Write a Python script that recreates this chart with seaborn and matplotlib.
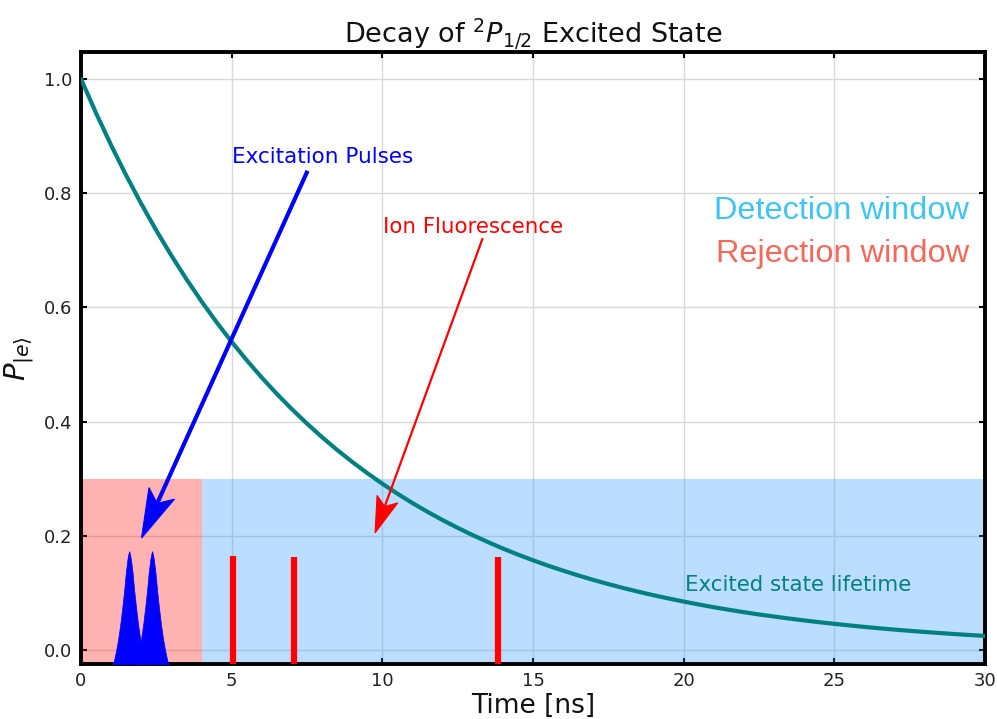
import numpy as np
import matplotlib
matplotlib.use("Agg")
import matplotlib.pyplot as plt
import seaborn as sns
from matplotlib.patches import Polygon
from matplotlib.lines import Line2D
from matplotlib.transforms import IdentityTransform

# ---- data ----
time_ns = [0.0, 0.5, 1.0, 1.5, 2.0, 2.5, 3.0, 3.5, 4.0, 4.5, 5.0, 5.5, 6.0, 6.5, 7.0, 7.5,
           8.0, 8.5, 9.0, 9.5, 10.0, 10.5, 11.0, 11.5, 12.0, 12.5, 13.0, 13.5, 14.0, 14.5,
           15.0, 15.5, 16.0, 16.5, 17.0, 17.5, 18.0, 18.5, 19.0, 19.5, 20.0, 20.5, 21.0,
           21.5, 22.0, 22.5, 23.0, 23.5, 24.0, 24.5, 25.0, 25.5, 26.0, 26.5, 27.0, 27.5,
           28.0, 28.5, 29.0, 29.5, 30.0]
p_excited = [1.0000, 0.9401, 0.8839, 0.8310, 0.7813, 0.7345, 0.6906, 0.6493, 0.6104,
             0.5739, 0.5396, 0.5073, 0.4769, 0.4484, 0.4216, 0.3964, 0.3726, 0.3503,
             0.3294, 0.3097, 0.2911, 0.2737, 0.2573, 0.2419, 0.2275, 0.2139, 0.2011,
             0.1891, 0.1777, 0.1671, 0.1571, 0.1477, 0.1389, 0.1306, 0.1227, 0.1154,
             0.1085, 0.1020, 0.0959, 0.0902, 0.0848, 0.0797, 0.0749, 0.0704, 0.0662,
             0.0622, 0.0586, 0.0551, 0.0518, 0.0487, 0.0458, 0.0431, 0.0404, 0.0380,
             0.0357, 0.0336, 0.0316, 0.0297, 0.0279, 0.0262, 0.0247]

pulse_centers = [1.60, 2.36]
pulse_offsets = [-0.55, -0.50, -0.43, -0.37, -0.29, -0.225, -0.165, -0.115, -0.06, -0.03,
                 0.0, 0.03, 0.06, 0.115, 0.165, 0.225, 0.29, 0.37, 0.43, 0.50, 0.55]
pulse_profile = [-0.025, -0.0175, 0.0, 0.0175, 0.047, 0.076, 0.105, 0.134, 0.158, 0.167,
                 0.173, 0.167, 0.158, 0.134, 0.105, 0.076, 0.047, 0.0175, 0.0, -0.0175,
                 -0.025]

fluor_times = [5.05, 7.07, 13.85]
fluor_heights = [0.165, 0.163, 0.163]

rejection_window = [0.0, 4.0]
detection_window = [4.0, 30.0]
window_height = 0.30

x_ticks = [0, 5, 10, 15, 20, 25, 30]
y_ticks = [0.0, 0.2, 0.4, 0.6, 0.8, 1.0]

# ---- figure ----
sns.set_style("whitegrid")
plt.rcParams['font.family'] = ['DejaVu Sans']

fig = plt.figure(figsize=(9.97, 7.19), dpi=100)
ax = fig.add_axes([0.0812, 0.0765, 0.9068, 0.8512])
ymin, ymax = -0.0245, 1.047
ax.set_xlim(0, 30)
ax.set_ylim(ymin, ymax)

ax.grid(True, color='#d9d9d9', linewidth=1.0)
ax.set_axisbelow(True)

# windows
ax.fill_between(rejection_window, ymin, window_height, color='red', alpha=0.3,
                linewidth=0, zorder=1)
ax.fill_between(detection_window, ymin, window_height, color='dodgerblue', alpha=0.3,
                linewidth=0, zorder=1)

# excitation pulses
for c in pulse_centers:
    xs = [c + o for o in pulse_offsets]
    ax.fill_between(xs, ymin, pulse_profile, color='#0000ff', linewidth=0.5,
                    edgecolor='#0000ff', zorder=3)

# fluorescence photons
ax.vlines(fluor_times, ymin, fluor_heights, color='#ff0000', linewidth=4.5, zorder=3)

# decay curve
sns.lineplot(x=time_ns, y=p_excited, ax=ax, color='#008080', linewidth=3, zorder=4)

ax.set_xticks(x_ticks)
ax.set_yticks(y_ticks)
ax.set_xticklabels([str(v) for v in x_ticks])
ax.set_yticklabels([f"{v:.1f}" for v in y_ticks])
ax.tick_params(axis='both', which='both', direction='in', length=4, width=1.5,
               color='black', labelsize=13, top=True, right=True,
               bottom=True, left=True, labelcolor='#222222', pad=6)
for s in ax.spines.values():
    s.set_color('black')
    s.set_linewidth(2.8)
    s.set_visible(True)

ax.set_title(r"Decay of $^2P_{1/2}$ Excited State", fontsize=19.5, pad=6, color='#111111')
ax.set_xlabel("Time [ns]", fontsize=19, labelpad=2, color='#111111')
ax.set_ylabel(r"$P_{|e\rangle}$", fontsize=21, labelpad=6, color='#111111')

# texts
ax.text(5.0, 0.863, "Excitation Pulses", color='#0000ff', fontsize=15.5, va='center', ha='left')
ax.text(10.03, 0.741, "Ion Fluorescence", color='#ff0000', fontsize=15.4, va='center', ha='left')
ax.text(20.03, 0.114, "Excited state lifetime", color='#008080', fontsize=15.4,
        va='center', ha='left', zorder=5)
ax.text(29.47, 0.768, "Detection window", color='#3ec5f1', fontsize=23.4, va='center',
        ha='right', family=['Liberation Sans'])
ax.text(29.47, 0.694, "Rejection window", color='#f4695a', fontsize=23.4, va='center',
        ha='right', family=['Liberation Sans'])


def notched_arrow(tail, tip, color, lw, head_len, notch_len, half_w):
    T = ax.transData
    p0 = np.array(T.transform(tail))
    p1 = np.array(T.transform(tip))
    d = p1 - p0
    u = d / np.hypot(*d)
    n = np.array([-u[1], u[0]])
    base = p1 - u * head_len
    notch = p1 - u * notch_len
    left = base + n * half_w
    right = base - n * half_w
    ln = Line2D([p0[0], notch[0] + u[0] * 2], [p0[1], notch[1] + u[1] * 2],
                color=color, linewidth=lw, transform=IdentityTransform(),
                solid_capstyle='butt', zorder=6)
    ax.add_line(ln)
    poly = Polygon([p1, left, notch, right], closed=True, facecolor=color,
                   edgecolor=color, linewidth=0.8, transform=IdentityTransform(),
                   zorder=6)
    ax.add_patch(poly)


notched_arrow((7.52, 0.839), (2.01, 0.196), '#0000ff', 3.0, 49, 38, 14)
notched_arrow((13.33, 0.721), (9.76, 0.205), '#ff0000', 1.6, 36, 28, 11)

fig.savefig("out.png", dpi=100)
